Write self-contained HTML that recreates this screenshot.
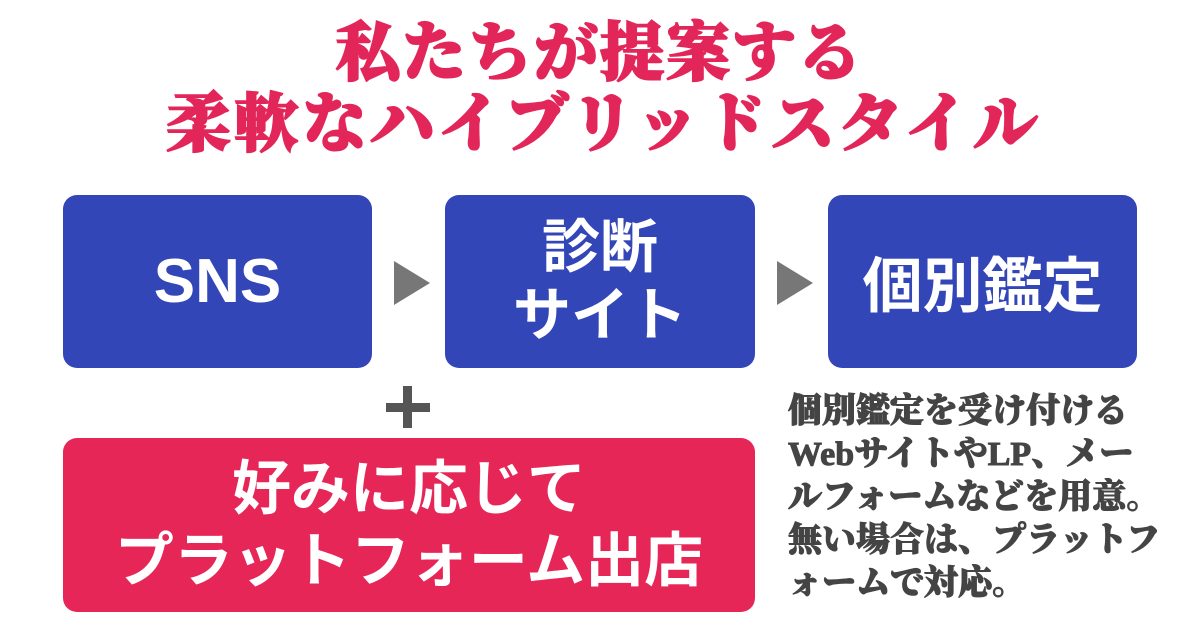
<!DOCTYPE html>
<html><head><meta charset="utf-8"><style>
body{margin:0;width:1200px;height:628px;background:#fff;position:relative;overflow:hidden;font-family:"Liberation Sans","Noto Sans CJK JP",sans-serif}
.t{position:absolute;left:0;width:1200px;text-align:center;color:#e3265a;font-family:"Liberation Serif","Noto Serif CJK SC",serif;font-weight:900;font-size:64px;line-height:64px;-webkit-text-stroke:2px #e3265a;white-space:nowrap}
.b{position:absolute;background:#3346b8;border-radius:14px;color:#fff;font-weight:700;display:flex;align-items:center;justify-content:center;text-align:center}
.tri{position:absolute;width:0;height:0;border-top:22px solid transparent;border-bottom:22px solid transparent;border-left:36px solid #777}
.note{position:absolute;left:788px;top:390px;width:420px;color:#444;font-family:"Liberation Serif","Noto Serif CJK SC",serif;font-weight:900;font-size:34px;line-height:43px;-webkit-text-stroke:1px #444;white-space:nowrap}
</style></head><body>
<div class="t" style="top:22px;letter-spacing:2px">私たちが提案する</div>
<div class="t" style="top:93px;letter-spacing:4px;padding-left:4px">柔軟なハイブリッドスタイル</div>
<div class="b" style="left:63px;top:195px;width:309px;height:173px;font-size:62px">SNS</div>
<div class="b" style="left:445px;top:195px;width:310px;height:173px;font-size:58px;line-height:68px">診断<br>サイト</div>
<div class="b" style="left:828px;top:195px;width:309px;height:173px;font-size:60px">個別鑑定</div>
<div class="tri" style="left:394px;top:261px"></div>
<div class="tri" style="left:777px;top:261px"></div>
<div style="position:absolute;left:386px;top:403px;width:44px;height:9px;background:#555"></div>
<div style="position:absolute;left:403px;top:386px;width:9px;height:42px;background:#555"></div>
<div class="b" style="left:63px;top:438px;width:692px;height:174px;background:#e72658;font-size:59px;line-height:72px;font-weight:700">好みに応じて<br>プラットフォーム出店</div>
<div class="note">個別鑑定を受け付ける<br>WebサイトやLP、メー<br>ルフォームなどを用意。<br>無い場合は、プラットフ<br>ォームで対応。</div>
</body></html>
